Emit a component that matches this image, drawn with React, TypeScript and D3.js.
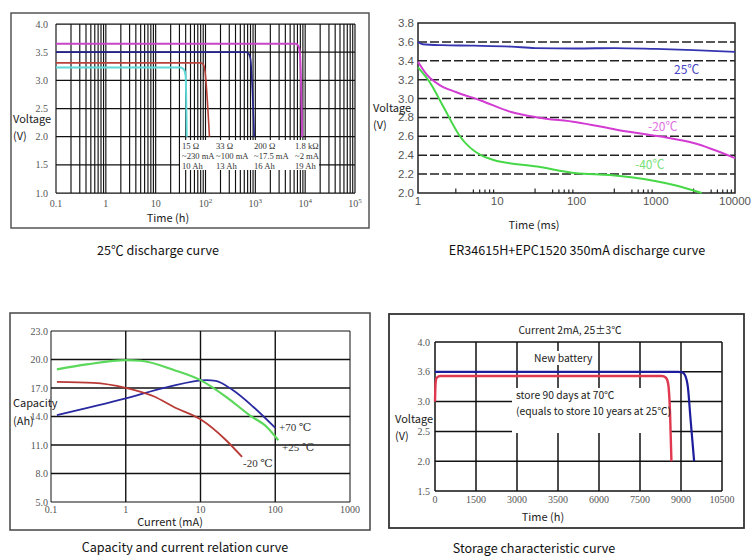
import React from 'react';
import * as d3 from 'd3';

const serif = "'Liberation Serif', 'DejaVu Serif', serif";
const sans = "'Liberation Sans', Arial, sans-serif";
const cjk = "'Noto Sans CJK SC', 'Noto Sans', sans-serif";

type P = [number, number];

// ---------- Chart 1: 25℃ discharge curve ----------
const c1XTicks = [0.1, 1, 10, 100, 1000, 10000, 100000];
const c1XTickBase = ['0.1', '1', '10', '10', '10', '10', '10'];
const c1XTickExp = ['', '', '', '2', '3', '4', '5'];
const c1YTicks = [1.0, 1.5, 2.0, 2.5, 3.0, 3.5, 4.0];
const c1Magenta: P[] = [[0.1, 3.65], [6500, 3.65], [7400, 3.6], [7900, 3.45], [8700, 2.0]];
const c1Blue: P[] = [[0.1, 3.5], [640, 3.5], [740, 3.47], [800, 3.38], [950, 2.0]];
const c1Red: P[] = [[0.1, 3.31], [82, 3.31], [92, 3.27], [97, 3.18], [120, 2.0]];
const c1Cyan: P[] = [[0.1, 3.23], [32, 3.23], [37, 3.19], [40, 3.08], [42, 2.0]];
const c1Notes = [
  ['15 Ω', '~230 mA', '10 Ah'],
  ['33 Ω', '~100 mA', '13 Ah'],
  ['200 Ω', '~17.5 mA', '16 Ah'],
  ['1.8 kΩ', '~2 mA', '19 Ah'],
];

// ---------- Chart 2: ER34615H+EPC1520 350mA discharge ----------
const c2XTicks = [1, 10, 100, 1000, 10000];
const c2XTickLabels = ['1', '10', '100', '1000', '10000'];
const c2YTicks = [2.0, 2.2, 2.4, 2.6, 2.8, 3.0, 3.2, 3.4, 3.6, 3.8];
const c2MinorMult = [3, 5, 6, 7, 8, 9];
const c2T25: P[] = [[1, 3.6], [1.15, 3.575], [2, 3.565], [5, 3.56], [15, 3.55], [30, 3.535], [100, 3.53], [300, 3.535], [1000, 3.525], [3000, 3.513], [10000, 3.495]];
const c2Tm20: P[] = [[1, 3.39], [1.3, 3.25], [1.9, 3.14], [3, 3.07], [6.2, 2.98], [14.6, 2.86], [32, 2.8], [100, 2.75], [320, 2.67], [1100, 2.6], [3000, 2.53], [10000, 2.37]];
const c2Tm40: P[] = [[1, 3.33], [1.44, 3.16], [2.1, 2.91], [3.45, 2.59], [6.2, 2.4], [9, 2.35], [32, 2.28], [100, 2.21], [265, 2.19], [940, 2.13], [1800, 2.08], [3800, 2.0]];

// ---------- Chart 3: Capacity vs current ----------
const c3XTicks = [0.1, 1, 10, 100, 1000];
const c3XTickLabels = ['0.1', '1', '10', '100', '1000'];
const c3YTicks = [5, 8, 11, 14, 17, 20, 23];
const c3P25: P[] = [[0.12, 18.96], [0.3, 19.48], [1, 19.94], [1.6, 19.87], [4.4, 18.9], [10, 17.83], [22, 16.07], [46, 14.1], [77, 12.9], [110, 11.5]];
const c3P70: P[] = [[0.12, 14.14], [1, 15.9], [3.5, 17.06], [12, 17.83], [16, 17.76], [27, 16.78], [51, 15.0], [100, 12.8]];
const c3M20: P[] = [[0.12, 17.65], [0.37, 17.55], [1, 17.02], [2.4, 16.1], [4.4, 15.0], [10, 13.7], [22, 11.5], [36, 9.74]];

// ---------- Chart 4: Storage characteristic ----------
const c4XTicks = [0, 1500, 3000, 4500, 6000, 7500, 9000, 10500];
const c4XTickLabels = ['0', '1500', '3000', '3500', '6000', '7500', '9000', '10500'];
const c4YTicks = [1.5, 2.0, 2.5, 3.0, 3.5, 4.0];
const c4YTickLabels = ['1.5', '2.0', '2.5', '3.0', '3.6', '4.0'];
const c4New: P[] = [[0, 3.5], [8900, 3.5], [9050, 3.49], [9150, 3.44], [9250, 3.25], [9350, 2.7], [9480, 2.0]];
const c4Stored: P[] = [[0, 3.0], [20, 3.3], [60, 3.4], [200, 3.43], [8300, 3.43], [8450, 3.4], [8530, 3.3], [8600, 2.8], [8650, 2.0]];

function mkLine(x: (v: number) => number, y: (v: number) => number) {
  return d3.line<P>().x(d => x(d[0])).y(d => y(d[1])).curve(d3.curveMonotoneX);
}

const axisFs = 11;
const titleFs = 12.6;

function Chart1() {
  const x = d3.scaleLog().domain([0.1, 1e5]).range([56, 355]);
  const y = d3.scaleLinear().domain([1, 4]).range([193, 24]);
  const line = mkLine(x, y);
  const minor: number[] = [];
  for (let e = -1; e < 5; e++) for (let k = 1; k < 10; k++) minor.push(k * Math.pow(10, e));
  minor.push(1e5);
  const noteX = [182, 216, 254, 295];
  return (
    <g>
      <rect x={11} y={13} width={358} height={215} fill="none" stroke="#555" strokeWidth={1.5} />
      {minor.map((m, i) => (
        <line key={i} x1={x(m)} x2={x(m)} y1={y(4)} y2={y(1)} stroke="#111" strokeWidth={1.15} />
      ))}
      {c1YTicks.map((t, i) => (
        <line key={i} x1={56} x2={355} y1={y(t)} y2={y(t)} stroke="#111" strokeWidth={1.25} />
      ))}
      <rect x={180} y={140} width={139} height={30} fill="#fff" />
      {c1Notes.map((col, i) =>
        col.map((s, j) => (
          <text key={i + '-' + j} x={noteX[i]} y={149 + j * 10} fontFamily={serif} fontSize={8.6} fill="#333">{s}</text>
        ))
      )}
      <path d={line(c1Cyan)!} fill="none" stroke="#5fd8d8" strokeWidth={2} />
      <path d={line(c1Red)!} fill="none" stroke="#b8433a" strokeWidth={1.6} />
      <path d={line(c1Blue)!} fill="none" stroke="#23238a" strokeWidth={1.6} />
      <path d={line(c1Magenta)!} fill="none" stroke="#c845c8" strokeWidth={2} />
      {c1YTicks.map((t, i) => (
        <text key={i} x={48} y={y(t) + 3.5} textAnchor="end" fontFamily={serif} fontSize={10} fill="#555">{t.toFixed(1)}</text>
      ))}
      {c1XTicks.map((t, i) => (
        <text key={i} x={x(t)} y={207} textAnchor="middle" fontFamily={serif} fontSize={10} fill="#555">
          {c1XTickBase[i]}
          {c1XTickExp[i] && <tspan dy={-4} fontSize={7}>{c1XTickExp[i]}</tspan>}
        </text>
      ))}
      <text x={13} y={123} fontFamily={cjk} fontSize={axisFs} fill="#222">Voltage</text>
      <text x={13} y={140} fontFamily={cjk} fontSize={axisFs} fill="#222">(V)</text>
      <text x={168} y={222} textAnchor="middle" fontFamily={cjk} fontSize={axisFs} fill="#222">Time (h)</text>
      <text x={158} y={255} textAnchor="middle" fontFamily={cjk} fontSize={titleFs} fill="#111">25℃ discharge curve</text>
    </g>
  );
}

function Chart2() {
  const x = d3.scaleLog().domain([1, 10000]).range([418, 735]);
  const y = d3.scaleLinear().domain([2.0, 3.8]).range([193, 23]);
  const line = mkLine(x, y);
  const minor: number[] = [];
  for (let e = 0; e < 4; e++) c2MinorMult.forEach(k => minor.push(k * Math.pow(10, e)));
  return (
    <g>
      {c2YTicks.slice(1, -1).map((t, i) => (
        <line key={i} x1={418} x2={735} y1={y(t)} y2={y(t)} stroke="#222" strokeWidth={1.5} strokeDasharray="9,3" />
      ))}
      <rect x={418} y={23} width={317} height={170} fill="none" stroke="#222" strokeWidth={1.5} />
      {minor.map((m, i) => (
        <line key={i} x1={x(m)} x2={x(m)} y1={193} y2={m / Math.pow(10, Math.floor(Math.log10(m) + 1e-9)) < 4 ? 188.5 : 189.5} stroke="#222" strokeWidth={1.2} />
      ))}
      <path d={line(c2T25)!} fill="none" stroke="#3535b0" strokeWidth={1.8} />
      <path d={line(c2Tm20)!} fill="none" stroke="#d23cd2" strokeWidth={2} />
      <path d={line(c2Tm40)!} fill="none" stroke="#46d846" strokeWidth={2} />
      {c2YTicks.map((t, i) => (
        <text key={i} x={414} y={y(t) + 4} textAnchor="end" fontFamily={sans} fontSize={11.5} fill="#555">{t.toFixed(1)}</text>
      ))}
      {c2XTicks.map((t, i) => (
        <text key={i} x={x(t)} y={205} textAnchor="middle" fontFamily={sans} fontSize={11.5} fill="#555">{c2XTickLabels[i]}</text>
      ))}
      <text x={674} y={74} fontFamily={cjk} fontSize={12} fill="#4646c4">25℃</text>
      <text x={648} y={131} fontFamily={cjk} fontSize={12} fill="#e070e0">-20℃</text>
      <text x={635} y={169} fontFamily={cjk} fontSize={12} fill="#78e078">-40℃</text>
      <text x={373} y={112} fontFamily={cjk} fontSize={axisFs} fill="#222">Voltage</text>
      <text x={373} y={129} fontFamily={cjk} fontSize={axisFs} fill="#222">(V)</text>
      <text x={534} y={229} textAnchor="middle" fontFamily={cjk} fontSize={axisFs} fill="#222">Time (ms)</text>
      <text x={577} y={255} textAnchor="middle" fontFamily={cjk} fontSize={titleFs} fill="#111">ER34615H+EPC1520  350mA discharge curve</text>
    </g>
  );
}

function Chart3() {
  const x = d3.scaleLog().domain([0.1, 1000]).range([51, 350]);
  const y = d3.scaleLinear().domain([5, 23]).range([502, 331]);
  const line = mkLine(x, y);
  return (
    <g>
      <rect x={10} y={313} width={360} height={217} fill="none" stroke="#444" strokeWidth={1.5} />
      {c3YTicks.map((t, i) => (
        <line key={i} x1={51} x2={350} y1={y(t)} y2={y(t)} stroke="#111" strokeWidth={i === 0 || i === c3YTicks.length - 1 ? 1 : 1.4} />
      ))}
      {c3XTicks.map((t, i) => (
        <line key={i} x1={x(t)} x2={x(t)} y1={y(23)} y2={y(5)} stroke="#111" strokeWidth={i === 0 || i === c3XTicks.length - 1 ? 1 : 1.4} />
      ))}
      <path d={line(c3P70)!} fill="none" stroke="#2a2aa0" strokeWidth={1.8} />
      <path d={line(c3M20)!} fill="none" stroke="#b83a36" strokeWidth={1.8} />
      <path d={line(c3P25)!} fill="none" stroke="#5ad85a" strokeWidth={2.2} />
      {c3YTicks.map((t, i) => (
        <text key={i} x={48} y={y(t) + 3.5} textAnchor="end" fontFamily={serif} fontSize={10} fill="#555">{t.toFixed(1)}</text>
      ))}
      {c3XTicks.map((t, i) => (
        <text key={i} x={x(t)} y={513} textAnchor="middle" fontFamily={serif} fontSize={10} fill="#555">{c3XTickLabels[i]}</text>
      ))}
      <text x={279} y={431} fontFamily={serif} fontSize={11} fill="#333">+70 ℃</text>
      <text x={282} y={451} fontFamily={serif} fontSize={11} fill="#333">+25 ℃</text>
      <text x={243} y={467} fontFamily={serif} fontSize={11} fill="#333">-20 ℃</text>
      <text x={13} y={407} fontFamily={cjk} fontSize={axisFs} fill="#222">Capacity</text>
      <text x={13} y={425} fontFamily={cjk} fontSize={axisFs} fill="#222">(Ah)</text>
      <text x={170} y={526} textAnchor="middle" fontFamily={cjk} fontSize={axisFs} fill="#222">Current (mA)</text>
      <text x={185} y={552} textAnchor="middle" fontFamily={cjk} fontSize={titleFs} fill="#111">Capacity and current relation curve</text>
    </g>
  );
}

function Chart4() {
  const x = d3.scaleLinear().domain([0, 10500]).range([435, 722]);
  const y = d3.scaleLinear().domain([1.5, 4.0]).range([491, 342]);
  const line = mkLine(x, y);
  return (
    <g>
      <rect x={389} y={314} width={355} height={214} fill="none" stroke="#333" strokeWidth={1.8} />
      {c4YTicks.map((t, i) => (
        <line key={i} x1={435} x2={722} y1={y(t)} y2={y(t)} stroke="#111" strokeWidth={1.5} />
      ))}
      {c4XTicks.map((t, i) => (
        <line key={i} x1={x(t)} x2={x(t)} y1={342} y2={491} stroke="#111" strokeWidth={1.5} />
      ))}
      <rect x={530} y={351} width={64} height={14} fill="#fff" />
      <rect x={512} y={388} width={158} height={45} fill="#fff" />
      <path d={line(c4Stored)!} fill="none" stroke="#e0384e" strokeWidth={2.4} />
      <path d={line(c4New)!} fill="none" stroke="#1c1c9c" strokeWidth={2.2} />
      {c4YTicks.map((t, i) => (
        <text key={i} x={430} y={y(t) + 3.5} textAnchor="end" fontFamily={serif} fontSize={10} fill="#555">{c4YTickLabels[i]}</text>
      ))}
      {c4XTicks.map((t, i) => (
        <text key={i} x={x(t)} y={503} textAnchor="middle" fontFamily={serif} fontSize={10} fill="#555">{c4XTickLabels[i]}</text>
      ))}
      <text x={570} y={334} textAnchor="middle" fontFamily={cjk} fontSize={10.3} fill="#222">Current 2mA, 25±3℃</text>
      <text x={534} y={362} fontFamily={cjk} fontSize={10.3} fill="#222">New battery</text>
      <text x={516} y={399} fontFamily={cjk} fontSize={10.3} fill="#222">store 90 days at 70℃</text>
      <text x={516} y={415} fontFamily={cjk} fontSize={10.3} fill="#222">(equals to store 10 years at 25℃)</text>
      <text x={395} y={423} fontFamily={cjk} fontSize={axisFs} fill="#222">Voltage</text>
      <text x={395} y={440} fontFamily={cjk} fontSize={axisFs} fill="#222">(V)</text>
      <text x={543} y={521} textAnchor="middle" fontFamily={cjk} fontSize={axisFs} fill="#222">Time (h)</text>
      <text x={534} y={553} textAnchor="middle" fontFamily={cjk} fontSize={titleFs} fill="#111">Storage characteristic curve</text>
    </g>
  );
}

export default function App() {
  return (
    <svg width={754} height={560} viewBox="0 0 754 560" style={{ position: 'absolute', left: 0, top: 0, background: '#fff' }}>
      <rect x={0} y={0} width={754} height={560} fill="#fff" />
      <Chart1 />
      <Chart2 />
      <Chart3 />
      <Chart4 />
    </svg>
  );
}
